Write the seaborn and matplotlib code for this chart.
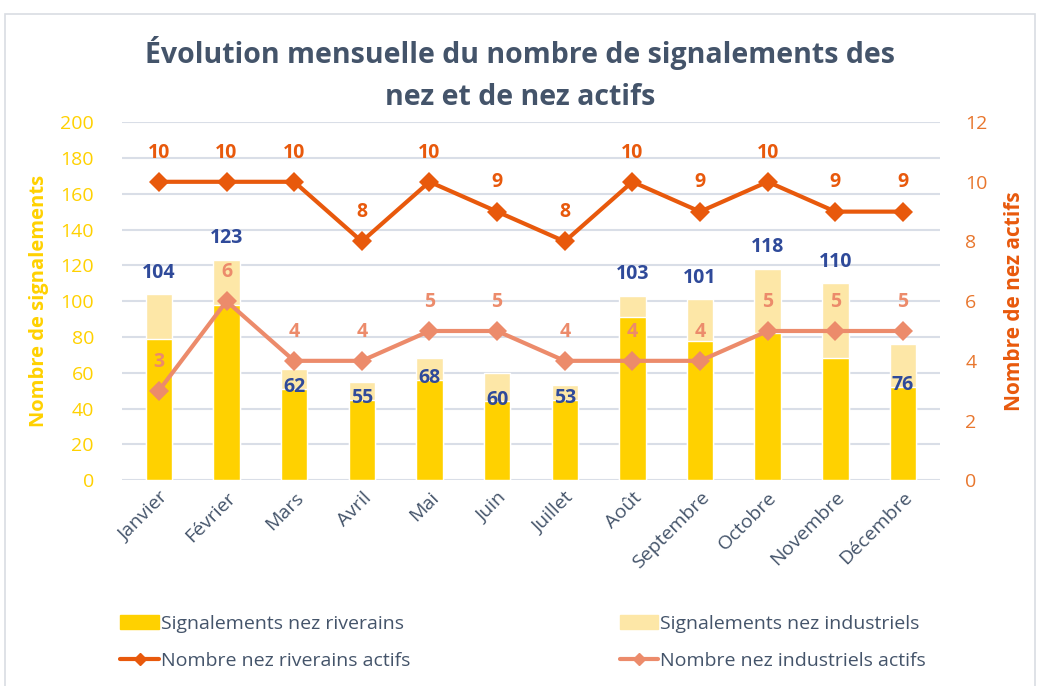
import numpy as np
import pandas as pd
import seaborn as sns
import matplotlib
matplotlib.use("Agg")
import matplotlib.pyplot as plt
from matplotlib.lines import Line2D
from matplotlib.patches import Patch, Rectangle

months = ["Janvier", "Février", "Mars", "Avril", "Mai", "Juin", "Juillet",
          "Août", "Septembre", "Octobre", "Novembre", "Décembre"]
sig_riverains = [79, 98, 51, 45, 56, 44, 45, 91, 78, 82, 68, 52]
sig_totals = [104, 123, 62, 55, 68, 60, 53, 103, 101, 118, 110, 76]
nez_riverains_actifs = [10, 10, 10, 8, 10, 9, 8, 10, 9, 10, 9, 9]
nez_industriels_actifs = [3, 6, 4, 4, 5, 5, 4, 4, 4, 5, 5, 5]
left_ticks = [0, 20, 40, 60, 80, 100, 120, 140, 160, 180, 200]
right_ticks = [0, 2, 4, 6, 8, 10, 12]

C_RIV = "#FFD100"
C_IND = "#FDE7A7"
C_LRIV = "#E8590C"
C_LIND = "#EC8B6B"
C_TOT = "#2F4A9A"
C_TXT = "#44546A"
C_GRID = "#D9DEE7"
C_YL = "#FFD100"
C_YR = "#E8762D"

sns.set_theme(style="white")
plt.rcParams['font.family'] = ['Open Sans', 'DejaVu Sans']

df = pd.DataFrame({"mois": months, "riv": sig_riverains, "tot": sig_totals,
                   "lriv": nez_riverains_actifs, "lind": nez_industriels_actifs})
df["pos"] = np.arange(len(df))

fig = plt.figure(figsize=(10.4, 6.86), dpi=100)
ax = fig.add_axes([0.117, 0.300, 0.787, 0.522])
ax.set_axisbelow(True)
sns.barplot(data=df, x="mois", y="tot", color=C_IND, width=0.39, saturation=1,
            ax=ax, zorder=2)
sns.barplot(data=df, x="mois", y="riv", color=C_RIV, width=0.39, saturation=1,
            ax=ax, zorder=2)
ax.set_ylim(0, 200)
ax.set_yticks(left_ticks)
ax.set_xlim(-0.55, len(months) - 0.45)
ax.yaxis.grid(True, color=C_GRID, lw=1.5)
for s in ax.spines.values():
    s.set_visible(False)
ax.set_xlabel("")
ax.set_ylabel("Nombre de signalements", color=C_YL, fontsize=14.5, fontweight="bold", labelpad=8)
ax.tick_params(axis="y", colors=C_YL, labelsize=14, length=0, pad=20)
ax.tick_params(axis="x", colors=C_TXT, labelsize=14, length=0, pad=6)
for lab in ax.get_xticklabels():
    lab.set_rotation(45)
    lab.set_ha("right")
    lab.set_rotation_mode("anchor")

ax2 = ax.twinx()
sns.lineplot(data=df, x="pos", y="lriv", color=C_LRIV, lw=3, marker="D",
             markersize=10, markeredgewidth=0, ax=ax2, zorder=4)
sns.lineplot(data=df, x="pos", y="lind", color=C_LIND, lw=3, marker="D",
             markersize=10, markeredgewidth=0, ax=ax2, zorder=4)
ax2.set_ylim(0, 12)
ax2.set_yticks(right_ticks)
ax2.set_xlim(ax.get_xlim())
for s in ax2.spines.values():
    s.set_visible(False)
ax2.set_xlabel("")
ax2.set_ylabel("Nombre de nez actifs", color=C_LRIV, fontsize=15, fontweight="bold", labelpad=12)
ax2.tick_params(axis="y", colors=C_YR, labelsize=14, length=0, pad=18)

for i, row in df.iterrows():
    ax2.annotate(str(row["lriv"]), (row["pos"], row["lriv"]), xytext=(0, 21),
                 textcoords="offset points", ha="center", va="center",
                 color=C_LRIV, fontsize=14, fontweight="bold", zorder=6)
    ax2.annotate(str(row["lind"]), (row["pos"], row["lind"]), xytext=(0, 21),
                 textcoords="offset points", ha="center", va="center",
                 color=C_LIND, fontsize=14, fontweight="bold", zorder=6)
    ty = row["tot"] + 12 if row["tot"] >= 100 else row["riv"] + 1
    ax.text(row["pos"], ty, str(row["tot"]), ha="center", va="center",
            color=C_TOT, fontsize=14, fontweight="bold", zorder=6)

fig.suptitle("Évolution mensuelle du nombre de signalements des\nnez et de nez actifs",
             x=0.5, y=0.948, fontsize=20.5, fontweight="bold", color=C_TXT, linespacing=1.6)

handles = [Patch(color=C_RIV), Line2D([0], [0], color=C_LRIV, lw=3, marker="D", markersize=6),
           Patch(color=C_IND), Line2D([0], [0], color=C_LIND, lw=3, marker="D", markersize=6)]
labels = ["Signalements nez riverains", "Nombre nez riverains actifs",
          "Signalements nez industriels", "Nombre nez industriels actifs"]
fig.legend(handles, labels, ncol=2, loc="lower left",
           bbox_to_anchor=(0.108, 0.012, 0.79, 0.1), mode="expand", frameon=False,
           fontsize=14, labelcolor=C_TXT, handlelength=2.0, handletextpad=0.1,
           labelspacing=1.0, borderaxespad=0)

fig.patches.append(Rectangle((0.005, -0.01), 0.99, 0.99, transform=fig.transFigure,
                             fill=False, edgecolor="#D9DDE3", lw=1.2))

fig.savefig("out.png", dpi=100)
